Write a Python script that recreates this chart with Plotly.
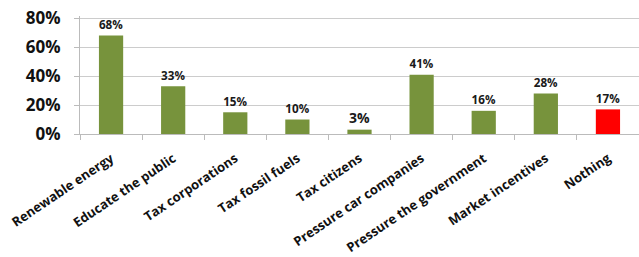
import plotly.graph_objects as go

categories = ["Renewable energy", "Educate the public", "Tax corporations", "Tax fossil fuels",
              "Tax citizens", "Pressure car companies", "Pressure the government",
              "Market incentives", "Nothing"]
values = [0.68, 0.33, 0.15, 0.10, 0.03, 0.41, 0.16, 0.28, 0.17]
labels = ["68%", "33%", "15%", "10%", "3%", "41%", "16%", "28%", "17%"]
y_ticks = [0, 0.2, 0.4, 0.6, 0.8]
y_tick_labels = ["0%", "20%", "40%", "60%", "80%"]
colors = ["#77933C"] * 8 + ["#FF0000"]

fig = go.Figure(go.Bar(
    x=categories, y=values, text=labels, textposition="outside",
    marker=dict(color=colors, line=dict(width=0)),
    textfont=dict(family="Open Sans", size=14, color="#1a1a1a", weight="bold"),
    cliponaxis=False, width=0.39,
))

fig.update_layout(
    width=639, height=257,
    margin=dict(l=80, r=0, t=16, b=123, autoexpand=False),
    paper_bgcolor="white", plot_bgcolor="white",
    showlegend=False,
    font=dict(family="Open Sans", color="#111"),
    xaxis=dict(
        tickangle=-34, tickson="boundaries", ticks="outside", ticklen=5,
        tickcolor="#bbbbbb", showline=True, linecolor="#bbbbbb",
        tickfont=dict(family="Open Sans", size=13, weight="bold", color="#111"),
        showgrid=False, automargin=False, ticklabelstandoff=11,
    ),
    yaxis=dict(
        range=[0, 0.815], tickmode="array", tickvals=y_ticks, ticktext=y_tick_labels,
        showgrid=True, gridcolor="#cccccc", gridwidth=1,
        showline=True, linecolor="#bbbbbb", ticks="outside", ticklen=5, tickcolor="#bbbbbb",
        tickfont=dict(family="Open Sans", size=17, weight="bold", color="#111"),
        zeroline=False, automargin=False, ticklabelstandoff=10,
    ),
)

fig.write_html("out.html", config={"displayModeBar": False},
               post_script="document.body.style.margin='0';")
